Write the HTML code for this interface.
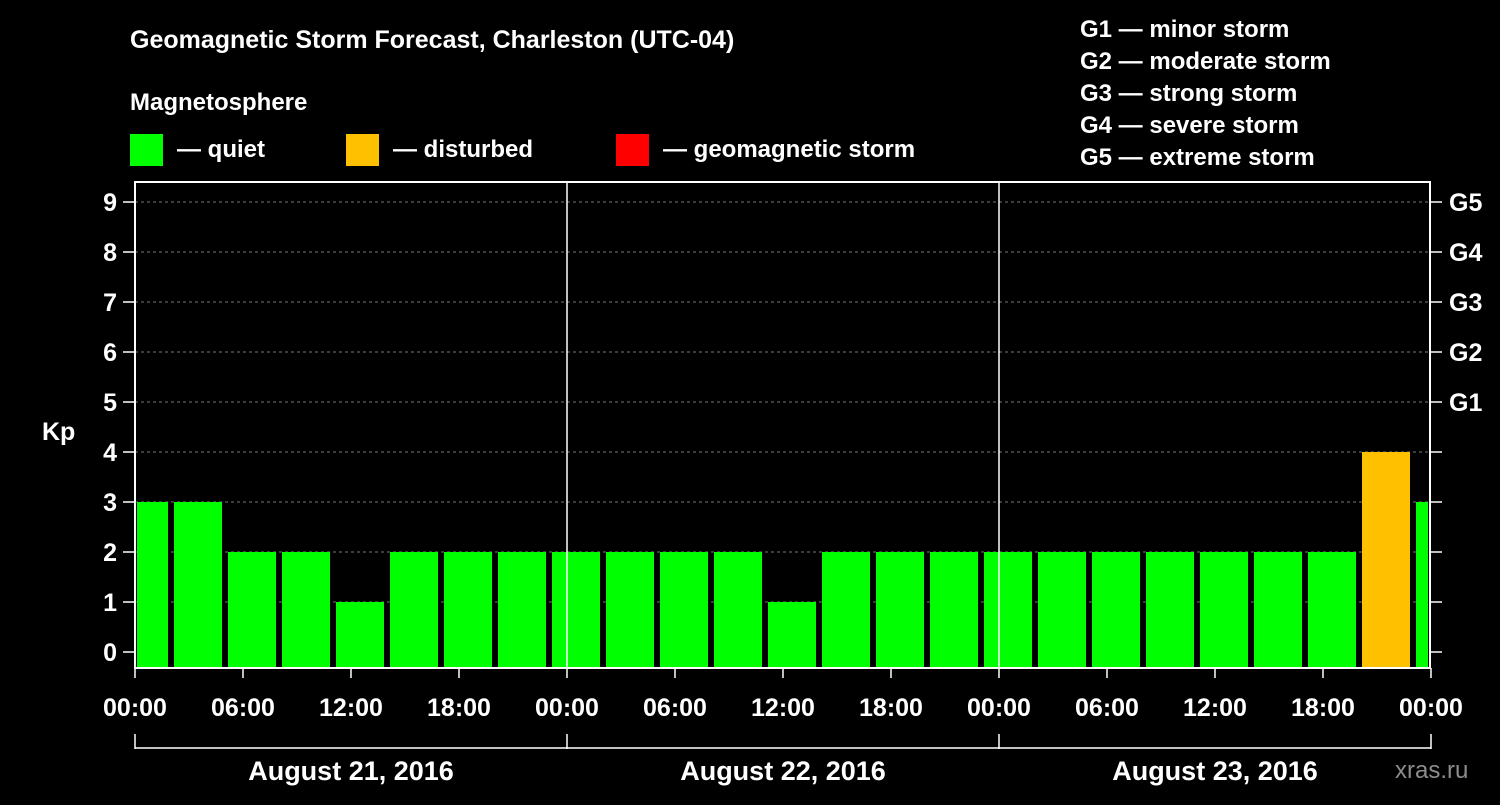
<!DOCTYPE html>
<html><head><meta charset="utf-8"><style>
body{margin:0;background:#000;}
svg text{font-family:"Liberation Sans",Arial,sans-serif;font-weight:bold;fill:#fff;}
</style></head><body>
<svg id="c" width="1500" height="800" viewBox="0 0 1500 800">
<rect x="0" y="0" width="1500" height="800" fill="#000"/>
<text x="130" y="48" font-size="25">Geomagnetic Storm Forecast, Charleston (UTC-04)</text>
<text x="130" y="110" font-size="24">Magnetosphere</text>
<g><rect x="130" y="134" width="33" height="32" fill="#00ff00"/><text x="177" y="157" font-size="24">— quiet</text></g>
<g><rect x="346" y="134" width="33" height="32" fill="#ffc000"/><text x="393" y="157" font-size="24">— disturbed</text></g>
<g><rect x="616" y="134" width="33" height="32" fill="#ff0000"/><text x="663" y="157" font-size="24">— geomagnetic storm</text></g>
<g font-size="24">
<text x="1080" y="37">G1 — minor storm</text>
<text x="1080" y="69">G2 — moderate storm</text>
<text x="1080" y="101">G3 — strong storm</text>
<text x="1080" y="133">G4 — severe storm</text>
<text x="1080" y="165">G5 — extreme storm</text>
</g>
<text x="42" y="440" font-size="25">Kp</text>
<text x="1395" y="778" font-size="24" fill="#888" style="fill:#8c8c8c;font-weight:normal">xras.ru</text>
<g id="grid"></g>
<g id="bars"></g>
<g id="axes"></g>
</svg>
<script>
const kpValues=[3,3,2,2,1,2,2,2,2,2,2,2,1,2,2,2,2,2,2,2,2,2,2,4,3];
const yTicks=[0,1,2,3,4,5,6,7,8,9];
const gLabels=["G1","G2","G3","G4","G5"];
const xTickLabels=["00:00","06:00","12:00","18:00","00:00","06:00","12:00","18:00","00:00","06:00","12:00","18:00","00:00"];
const dayLabels=["August 21, 2016","August 22, 2016","August 23, 2016"];
const binOffset=-1, binHours=3, totalHours=72;
const L=135,R=1431,T=182,B=668;
const xs=h=>L+h*(R-L)/totalHours;
const ys=v=>652-50*v;
const NS="http://www.w3.org/2000/svg";
function mk(tag,attrs,parent,txt){const e=document.createElementNS(NS,tag);for(const k in attrs)e.setAttribute(k,attrs[k]);if(txt!==undefined)e.textContent=txt;parent.appendChild(e);return e;}
const grid=document.getElementById('grid'),bars=document.getElementById('bars'),axes=document.getElementById('axes');
yTicks.forEach(v=>{
 if(v>0){const g=mk('line',{x1:L,x2:R,y1:ys(v),y2:ys(v),stroke:'#777','stroke-dasharray':'3,3','stroke-width':1},grid);
 }
 const t=mk('line',{x1:L-12,x2:L,y1:ys(v),y2:ys(v),stroke:'#fff','stroke-width':1.5},axes);
 
 const t2=mk('line',{x1:R-1,x2:R+11,y1:ys(v),y2:ys(v),stroke:'#fff','stroke-width':1.5},axes);
 
 const lb=mk('text',{x:L-18,y:ys(v)+9,'font-size':25,'text-anchor':'end'},axes,String(v));
 
});
gLabels.forEach((g,i)=>{const lb=mk('text',{x:R+18,y:ys(5+i)+9,'font-size':25},axes,g);
 });
kpValues.forEach((v,i)=>{
 const h0=Math.max(0,binOffset+i*binHours),h1=Math.min(totalHours,binOffset+(i+1)*binHours);
 const x0=xs(h0)+(h0===0?2:3),x1=xs(h1)-(h1===totalHours?3:3);
 const col=v>=5?'#ff0000':(v>=4?'#ffc000':'#00ff00');
 const r=mk('rect',{x:x0,y:ys(v),width:x1-x0,height:B-ys(v),fill:col},bars);
 
});
[1,2].forEach(d=>{const l=mk('line',{x1:xs(d*24),x2:xs(d*24),y1:T,y2:B,stroke:'#fff','stroke-width':1.5},axes);
 });
const fr=mk('rect',{x:L,y:T,width:R-L-1,height:B-T,fill:'none',stroke:'#fff','stroke-width':2},axes);

xTickLabels.forEach((s,i)=>{const x=xs(i*6);
 const t=mk('line',{x1:x,x2:x,y1:B,y2:B+10,stroke:'#fff','stroke-width':1.5},axes);
 
 const lb=mk('text',{x:x,y:716,'font-size':25,'text-anchor':'middle'},axes,s);
 });
const br=mk('line',{x1:L,x2:R,y1:748,y2:748,stroke:'#fff','stroke-width':1.5},axes);

[0,1,2,3].forEach(d=>{const l=mk('line',{x1:xs(d*24),x2:xs(d*24),y1:734,y2:749,stroke:'#fff','stroke-width':1.5},axes);
 });
dayLabels.forEach((s,d)=>{const lb=mk('text',{x:xs(d*24+12),y:780,'font-size':27,'text-anchor':'middle'},axes,s);
 });
</script>
</body></html>
